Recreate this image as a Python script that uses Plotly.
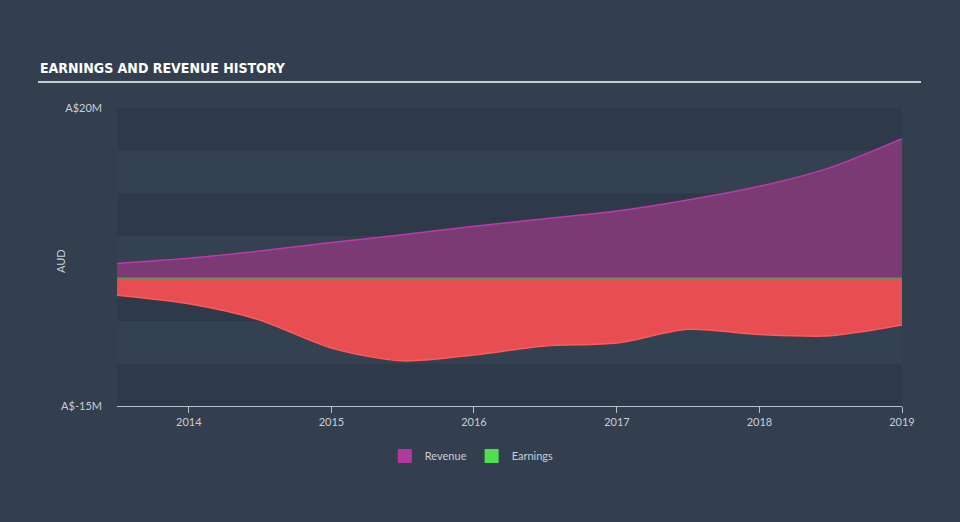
import plotly.graph_objects as go

dates = ["2013-07-01", "2014-01-01", "2014-07-01", "2015-01-01", "2015-07-01",
         "2016-01-01", "2016-07-01", "2017-01-01", "2017-07-01", "2018-01-01",
         "2018-07-01", "2019-01-01"]
revenue = [1.75, 2.35, 3.2, 4.2, 5.1, 6.1, 7.0, 7.9, 9.2, 10.8, 13.0, 16.4]
earnings = [-2.0, -3.0, -4.9, -8.2, -9.7, -9.0, -7.95, -7.6, -6.0, -6.6, -6.75, -5.5]

y_ticks = [20, -15]
y_ticktext = ["A$20M", "A$-15M"]
x_ticks = ["2014-01-01", "2015-01-01", "2016-01-01", "2017-01-01", "2018-01-01", "2019-01-01"]
x_ticktext = ["2014", "2015", "2016", "2017", "2018", "2019"]
band_edges = [-15, -10, -5, 0, 5, 10, 15, 20]

PAGE_BG = "#333f4f"
BAND_DARK = "#2e3a49"
BAND_LIGHT = "#344151"
TXT = "#c9ced6"
FONT = "Lato, Roboto, 'Open Sans', sans-serif"

fig = go.Figure()

fig.add_trace(go.Scatter(
    x=dates, y=earnings, mode="lines", fill="tozeroy",
    line=dict(color="#ff5a5a", width=1.5, shape="spline", smoothing=0.8),
    fillcolor="#e84e51", showlegend=False, hoverinfo="skip"))

fig.add_trace(go.Scatter(
    x=dates, y=revenue, mode="lines", fill="tozeroy",
    line=dict(color="#b93ca9", width=1.5, shape="spline", smoothing=0.8),
    fillcolor="#7b3a74", showlegend=False, hoverinfo="skip"))

fig.add_trace(go.Scatter(
    x=[dates[0], dates[-1]], y=[0, 0], mode="lines",
    line=dict(color="#6d8c5c", width=1.5), showlegend=False, hoverinfo="skip"))

fig.add_trace(go.Scatter(x=[None], y=[None], mode="markers", name="Revenue",
                         marker=dict(symbol="square", size=14, color="#b2399e")))
fig.add_trace(go.Scatter(x=[None], y=[None], mode="markers", name="Earnings",
                         marker=dict(symbol="square", size=14, color="#4fe04f")))

shapes = []
for i in range(len(band_edges) - 1):
    shapes.append(dict(type="rect", xref="paper", yref="y", x0=0, x1=1,
                       y0=band_edges[i], y1=band_edges[i + 1],
                       fillcolor=BAND_DARK if i % 2 == 0 else BAND_LIGHT,
                       line=dict(width=0), layer="below"))
shapes.append(dict(type="line", xref="paper", yref="paper",
                   x0=(38 - 117) / 785, x1=(921 - 117) / 785,
                   y0=(406 - 82) / 298, y1=(406 - 82) / 298,
                   line=dict(color="#c8ccd2", width=2)))

fig.update_layout(
    width=960, height=522,
    margin=dict(l=117, r=58, t=108, b=116),
    paper_bgcolor=PAGE_BG, plot_bgcolor=PAGE_BG,
    font=dict(family=FONT, color=TXT, size=11),
    shapes=shapes,
    showlegend=True,
    legend=dict(orientation="h", x=0.452, xanchor="center", y=-0.168, yanchor="middle",
                font=dict(size=11, color=TXT), bgcolor="rgba(0,0,0,0)",
                itemwidth=30),
    annotations=[
        dict(text="<b>EARNINGS AND REVENUE HISTORY</b>", xref="paper", yref="paper",
             x=(38 - 117) / 785, y=(406 - 68) / 298, xanchor="left", yanchor="middle",
             showarrow=False,
             font=dict(family="'DejaVu Sans Condensed', 'Liberation Sans Narrow', sans-serif",
                       size=14, color="#ffffff")),
        dict(text="AUD", xref="paper", yref="paper", x=(60 - 117) / 785, y=(406 - 261) / 298,
             xanchor="center", yanchor="middle", textangle=-90, showarrow=False,
             font=dict(size=11, color=TXT)),
    ],
    xaxis=dict(type="date", range=[dates[0], dates[-1]], tickvals=x_ticks, ticktext=x_ticktext,
               showgrid=False, zeroline=False, showline=True, linecolor="#b8c0cc", linewidth=1,
               ticks="outside", ticklen=6, tickcolor="#b8c0cc", tickfont=dict(size=11, color=TXT)),
    yaxis=dict(range=[-15, 20], tickvals=y_ticks, ticktext=y_ticktext, showgrid=False,
               zeroline=False, showline=False, ticks="", ticklabelstandoff=14,
               tickfont=dict(size=11, color=TXT)),
)

fig.write_html("out.html")
